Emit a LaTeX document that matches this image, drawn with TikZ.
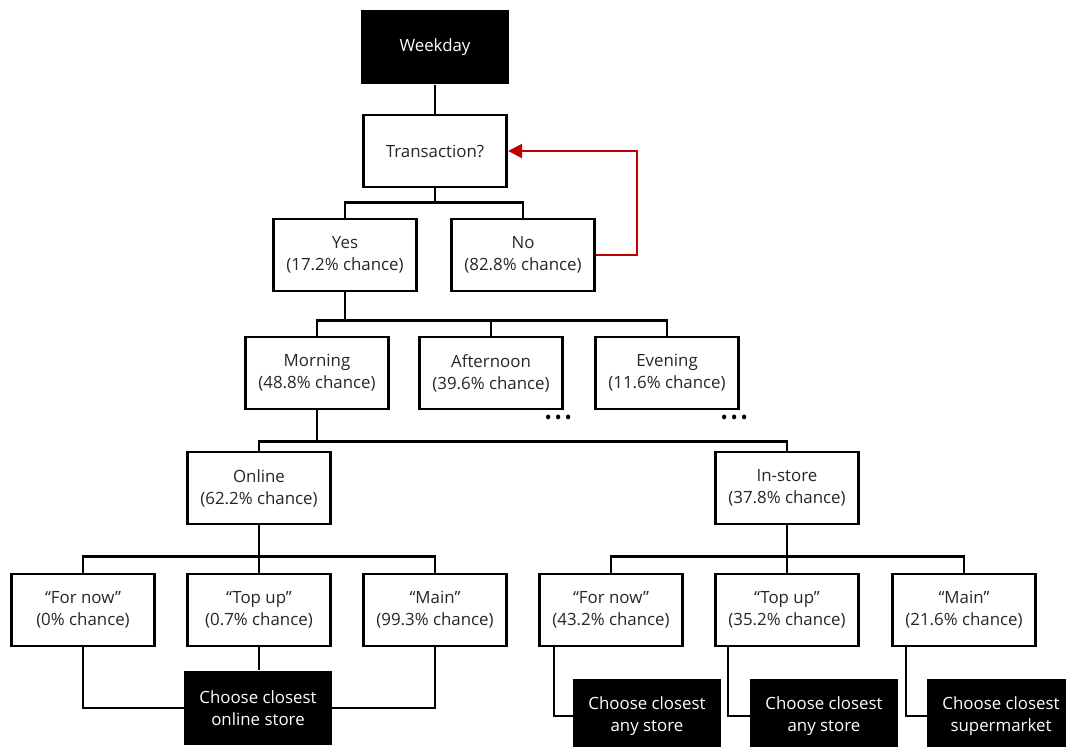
\documentclass[tikz,border=0pt]{standalone}
\usepackage{fontspec}
\setmainfont{Open Sans}
\usetikzlibrary{arrows.meta,calc}

\begin{document}
\begin{tikzpicture}[x=0.02cm, y=-0.02cm,
	every node/.style={font=\fontsize{9.6}{12.6}\selectfont, align=center},
	box/.style={rectangle, draw, line width=1.6pt, minimum width=2.87cm, minimum height=1.44cm, text=black!85},
	endbox/.style={rectangle, fill=black, text=white, minimum width=2.96cm, minimum height=1.5cm},
	wire/.style={line width=1.4pt},
	loop/.style={line width=1.4pt, draw={rgb,255:red,192;green,0;blue,0}, -{Triangle[length=8pt, width=8pt]}},
	more/.style={inner sep=0pt, font=\fontsize{11}{11}\selectfont}]
	\useasboundingbox (0,0) rectangle (1066,747);

	\node[endbox] (wk) at (435, 47) {Weekday};
	\node[box] (tr) at (435, 151) {Transaction?};
	\node[box] (yes) at (345, 255) {Yes\\(17.2\% chance)};
	\node[box] (no) at (523, 255) {No\\(82.8\% chance)};

	\node[box] (morn) at (317, 373) {Morning\\(48.8\% chance)};
	\node[box] (aft) at (491, 373) {Afternoon\\(39.6\% chance)};
	\node[box] (eve) at (667, 373) {Evening\\(11.6\% chance)};
	\node[more, anchor=east] (moreA) at ($(aft.south east)+(8, 9)$) {•\kern1.5pt•\kern1.5pt•};
	\node[more, anchor=east] (moreB) at ($(eve.south east)+(8, 9)$) {•\kern1.5pt•\kern1.5pt•};

	\node[box] (onl) at (259, 488) {Online\\(62.2\% chance)};
	\node[box] (inst) at (787, 488) {In-store\\(37.8\% chance)};

	\node[box] (fn1) at (83, 610) {“For now”\\(0\% chance)};
	\node[box] (tu1) at (259, 610) {“Top up”\\(0.7\% chance)};
	\node[box] (mn1) at (435, 610) {“Main”\\(99.3\% chance)};
	\node[box] (fn2) at (611, 610) {“For now”\\(43.2\% chance)};
	\node[box] (tu2) at (787, 610) {“Top up”\\(35.2\% chance)};
	\node[box] (mn2) at (964, 610) {“Main”\\(21.6\% chance)};

	\node[endbox] (ch1) at (258, 708) {Choose closest\\online store};
	\node[endbox] (ch2) at (647, 716) {Choose closest\\any store};
	\node[endbox] (ch3) at (824, 716) {Choose closest\\any store};
	\node[endbox] (ch4) at (1001, 716) {Choose closest\\supermarket};

	% tree
	\draw[wire] (wk) -- (tr);
	\draw[wire] (tr.south) -- ++(0, 14) coordinate (j1);
	\draw[wire] (j1) -| (yes.north);
	\draw[wire] (j1) -| (no.north);
	\draw[wire] (yes.south) -- ++(0, 28) coordinate (j2);
	\draw[wire] (j2) -| (morn.north);
	\draw[wire] (j2) -| (aft.north);
	\draw[wire] (j2) -| (eve.north);
	\draw[wire] (morn.south) -- ++(0, 31) coordinate (j3);
	\draw[wire] (j3) -| (onl.north);
	\draw[wire] (j3) -| (inst.north);
	\draw[wire] (onl.south) -- ++(0, 31) coordinate (j4);
	\draw[wire] (j4) -| (fn1.north);
	\draw[wire] (j4) -| (mn1.north);
	\draw[wire] (j4) -- (tu1.north);
	\draw[wire] (inst.south) -- ++(0, 31) coordinate (j5);
	\draw[wire] (j5) -| (fn2.north);
	\draw[wire] (j5) -| (mn2.north);
	\draw[wire] (j5) -- (tu2.north);

	% outcomes
	\draw[wire] (fn1.south) |- (ch1.west);
	\draw[wire] (tu1.south) -- (tu1.south |- ch1.north);
	\draw[wire] (mn1.south) |- (ch1.east);
	\draw[wire] ($(fn2.south west)+(16, 0)$) |- (ch2.west);
	\draw[wire] ($(tu2.south west)+(14, 0)$) |- (ch3.west);
	\draw[wire] ($(mn2.south west)+(15, 0)$) |- (ch4.west);

	% no transaction: try again
	\draw[loop] (no.east) -- ++(41, 0) |- (tr.east);
\end{tikzpicture}
\end{document}
